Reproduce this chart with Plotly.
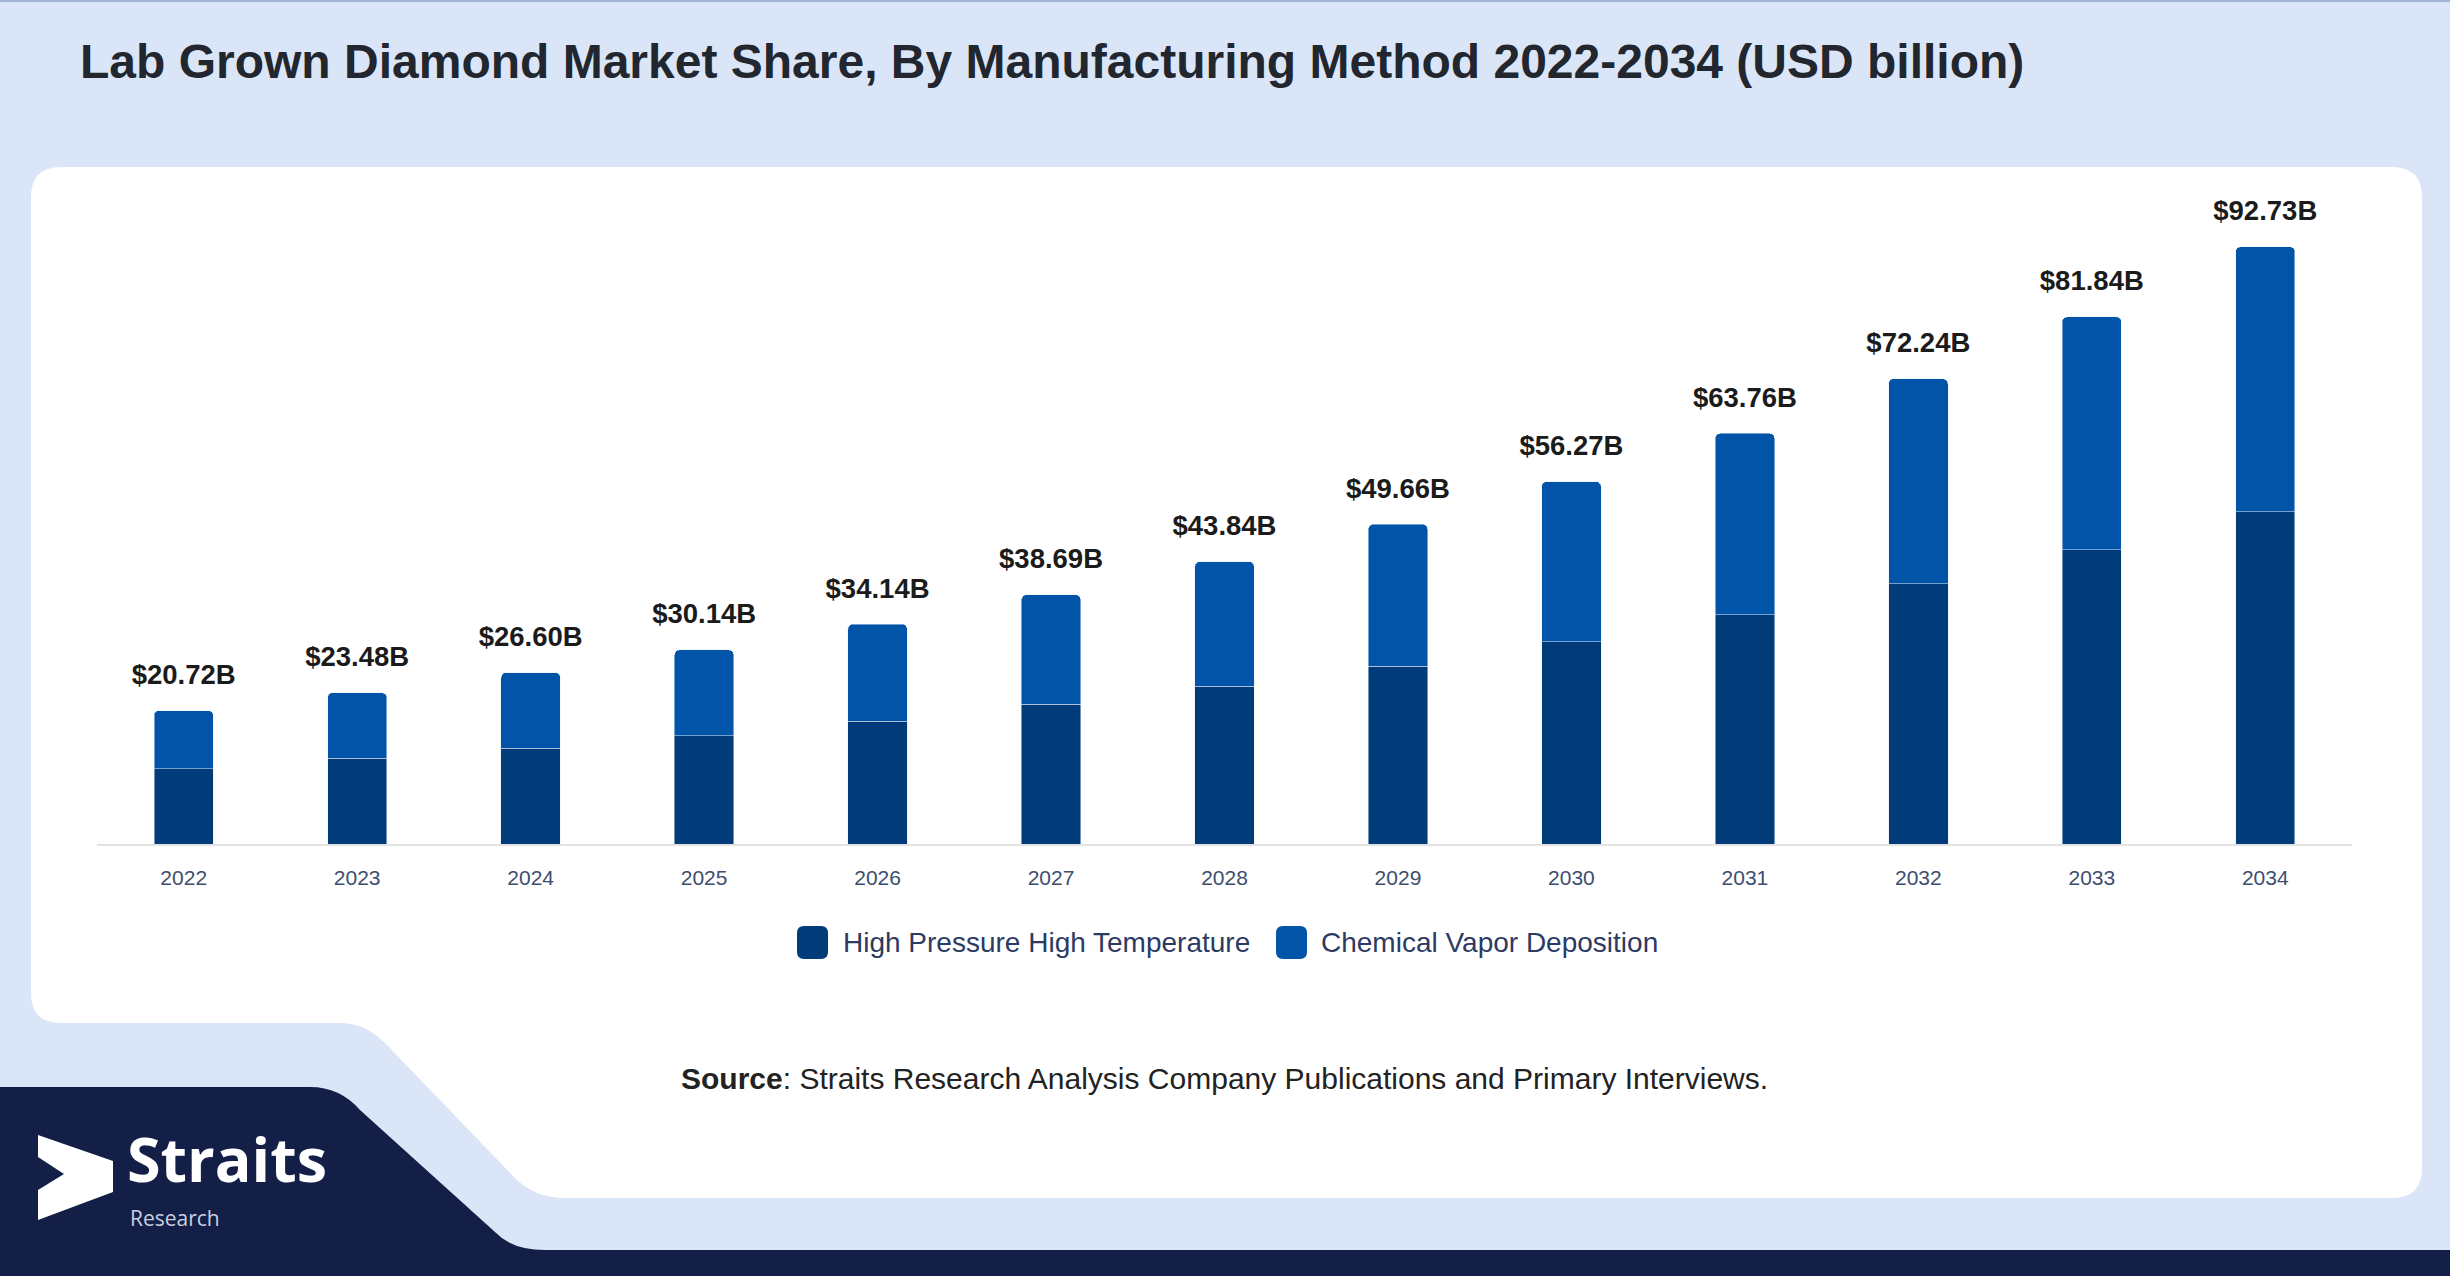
import plotly.graph_objects as go

years = ['2022', '2023', '2024', '2025', '2026', '2027', '2028',
         '2029', '2030', '2031', '2032', '2033', '2034']
totals = [20.72, 23.48, 26.60, 30.14, 34.14, 38.69, 43.84,
          49.66, 56.27, 63.76, 72.24, 81.84, 92.73]
hpht = [11.7, 13.3, 14.9, 16.8, 19.1, 21.7, 24.5,
        27.6, 31.4, 35.6, 40.4, 45.7, 51.6]
cvd = [round(t - h, 2) for t, h in zip(totals, hpht)]
total_labels = [f'${t:.2f}B' for t in totals]
series_names = ['High Pressure High Temperature', 'Chemical Vapor Deposition']

W, H = 2450, 1276
DARK = '#023b7a'
MID = '#0254a8'
NAVY = '#131f46'
BG = '#dae6f7'


def px(x):
    return x / W


def py(y):
    return 1 - y / H


def path(cmds):
    # cmds: list of (letter, [x1, y1, x2, y2, ...]) in pixels
    out = []
    for c, pts in cmds:
        s = c
        if pts:
            s += ' ' + ' '.join(f'{px(pts[i]):.5f},{py(pts[i + 1]):.5f}'
                                for i in range(0, len(pts), 2))
        out.append(s)
    return ' '.join(out)


fig = go.Figure()
fig.add_bar(x=years, y=hpht, name=series_names[0], marker_color=DARK,
            showlegend=False)
fig.add_bar(x=years, y=cvd, name=series_names[1], marker_color=MID,
            showlegend=False)
fig.add_scatter(x=years, y=totals, mode='markers+text', text=total_labels,
                textposition='top center',
                marker=dict(size=30, opacity=0),
                textfont=dict(family='Liberation Sans', size=27.5, color='#1b1b1b'),
                texttemplate='<b>%{text}</b>',
                showlegend=False, hoverinfo='skip', cliponaxis=False)

card = path([('M', [61, 167]), ('L', [2392, 167]), ('Q', [2422, 167, 2422, 197]),
             ('L', [2422, 1168]), ('Q', [2422, 1198, 2392, 1198]),
             ('L', [565, 1198]), ('Q', [535, 1198, 515, 1178]),
             ('L', [385, 1043]), ('Q', [365, 1023, 340, 1023]),
             ('L', [61, 1023]), ('Q', [31, 1023, 31, 993]),
             ('L', [31, 197]), ('Q', [31, 167, 61, 167]), ('Z', [])])
navy = path([('M', [0, 1087]), ('L', [310, 1087]), ('Q', [340, 1087, 360, 1110]),
             ('L', [495, 1232]), ('Q', [512, 1250, 545, 1250]),
             ('L', [W, 1250]), ('L', [W, H]), ('L', [0, H]), ('Z', [])])
arrow = path([('M', [38, 1135]), ('L', [113, 1161]), ('L', [113, 1192]),
              ('L', [38, 1220]), ('L', [38, 1190]), ('L', [64, 1174]),
              ('L', [38, 1157]), ('Z', [])])

shapes = [
    dict(type='path', path=card, xref='paper', yref='paper',
         fillcolor='white', line_width=0, layer='below'),
    dict(type='path', path=navy, xref='paper', yref='paper',
         fillcolor=NAVY, line_width=0, layer='below'),
    dict(type='path', path=arrow, xref='paper', yref='paper',
         fillcolor='white', line_width=0, layer='above'),
    dict(type='line', x0=0, x1=1, y0=py(1), y1=py(1), xref='paper', yref='paper',
         line=dict(color='#a3b3d6', width=2)),
]

# custom legend swatches
legend_items = [(797, 841, DARK), (1276, 1319, MID)]
for (sx, tx, col), name in zip(legend_items, series_names):
    x0, x1, y0, y1, r = sx, sx + 31, 926, 959, 7
    swatch = path([('M', [x0 + r, y0]), ('L', [x1 - r, y0]), ('Q', [x1, y0, x1, y0 + r]),
                   ('L', [x1, y1 - r]), ('Q', [x1, y1, x1 - r, y1]),
                   ('L', [x0 + r, y1]), ('Q', [x0, y1, x0, y1 - r]),
                   ('L', [x0, y0 + r]), ('Q', [x0, y0, x0 + r, y0]), ('Z', [])])
    shapes.append(dict(type='path', path=swatch, xref='paper', yref='paper',
                       fillcolor=col, line_width=0))

annotations = [
    dict(text='<b>Lab Grown Diamond Market Share, By Manufacturing Method 2022-2034 (USD billion)</b>',
         x=px(78), y=py(62), xref='paper', yref='paper', xanchor='left', yanchor='middle',
         showarrow=False, font=dict(family='Liberation Sans', size=48, color='#22262e')),
    dict(text='<b>Source</b>: Straits Research Analysis Company Publications and Primary Interviews.',
         x=px(1224), y=py(1078), xref='paper', yref='paper', xanchor='center', yanchor='middle',
         showarrow=False, font=dict(family='Liberation Sans', size=30, color='#222222')),
    dict(text='<b>Straits</b>', x=px(126), y=py(1201), xref='paper', yref='paper',
         xanchor='left', yanchor='bottom', showarrow=False, borderpad=0,
         font=dict(family='Open Sans', size=61, color='white')),
    dict(text='Research', x=px(129), y=py(1203), xref='paper', yref='paper',
         xanchor='left', yanchor='top', showarrow=False, borderpad=0,
         font=dict(family='Open Sans', size=21, color='#c8cfe0')),
]
for (sx, tx, col), name in zip(legend_items, series_names):
    annotations.append(dict(text=name, x=px(tx), y=py(942), xref='paper', yref='paper',
                            xanchor='left', yanchor='middle', showarrow=False,
                            font=dict(family='Liberation Sans', size=28, color='#2d3a62')))

fig.update_layout(
    width=W, height=H, autosize=False,
    margin=dict(l=0, r=0, t=0, b=0),
    paper_bgcolor=BG, plot_bgcolor='rgba(0,0,0,0)',
    barmode='stack', bargap=0.658, barcornerradius=5,
    shapes=shapes, annotations=annotations,
    font=dict(family='Liberation Sans'),
    xaxis=dict(domain=[px(97), px(2352)], range=[-0.5, 12.5], showline=True,
               linecolor='#e2e2e2', linewidth=2,
               showgrid=False, ticks='', tickfont=dict(size=21, color='#3d4d6e'),
               ticklabelstandoff=14),
    yaxis=dict(domain=[py(844), py(200)], range=[0, 100], visible=False, showgrid=False),
)

fig.write_html('out.html', config={'displayModeBar': False},
               post_script="document.body.style.margin='0';document.body.style.overflow='hidden';")
